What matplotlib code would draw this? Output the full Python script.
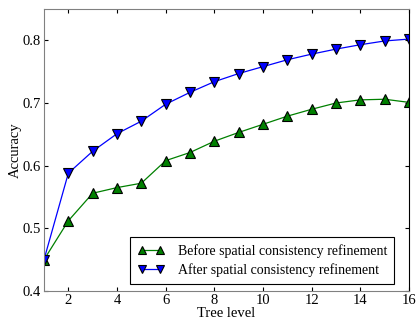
import matplotlib
matplotlib.use('Agg')
import matplotlib.pyplot as plt

plt.rcParams['font.family'] = ['Liberation Serif', 'DejaVu Serif']
plt.rcParams['mathtext.fontset'] = 'stix'

levels = list(range(1, 17))
before = [0.450, 0.512, 0.556, 0.565, 0.572, 0.608, 0.621, 0.639, 0.653, 0.666,
          0.679, 0.690, 0.700, 0.705, 0.706, 0.701]
after = [0.450, 0.588, 0.623, 0.651, 0.671, 0.698, 0.717, 0.734, 0.747, 0.758,
         0.769, 0.778, 0.786, 0.793, 0.799, 0.802]

fig = plt.figure(figsize=(4.16, 3.21), dpi=100)
ax = fig.add_axes([44/416, 30/321, 365/416, 282/321])

ax.plot(levels, before, color='#008000', marker='^', markersize=7,
        markerfacecolor='#008000', markeredgecolor='black', markeredgewidth=0.8,
        linewidth=0.9, label='Before spatial consistency refinement')
ax.plot(levels, after, color='blue', marker='v', markersize=7,
        markerfacecolor='blue', markeredgecolor='black', markeredgewidth=0.8,
        linewidth=0.9, label='After spatial consistency refinement')

ax.set_xlim(1, 16)
ax.set_ylim(0.4, 0.85)
ax.set_xticks([2, 4, 6, 8, 10, 12, 14, 16])
ax.set_yticks([0.4, 0.5, 0.6, 0.7, 0.8])
ax.tick_params(direction='in', top=True, right=True, labelsize=10.5, length=3, pad=2)
for s in ['left', 'top', 'bottom']:
    ax.spines[s].set_color('#808080')
ax.spines['right'].set_color('black')

ax.set_xlabel('Tree level', fontsize=10.5, labelpad=0)
ax.set_ylabel('Accuracy', fontsize=10.5, labelpad=1)

leg = ax.legend(loc='lower right', bbox_to_anchor=(394/416, (321-284)/321),
                bbox_transform=fig.transFigure, borderaxespad=0,
                fontsize=10, numpoints=2, fancybox=False, markerscale=0.85,
                framealpha=1, edgecolor='black', handlelength=1.9,
                handletextpad=1.0, labelspacing=0.4, borderpad=0.5)
leg.get_frame().set_linewidth(0.8)

fig.savefig('out.png', dpi=100)
